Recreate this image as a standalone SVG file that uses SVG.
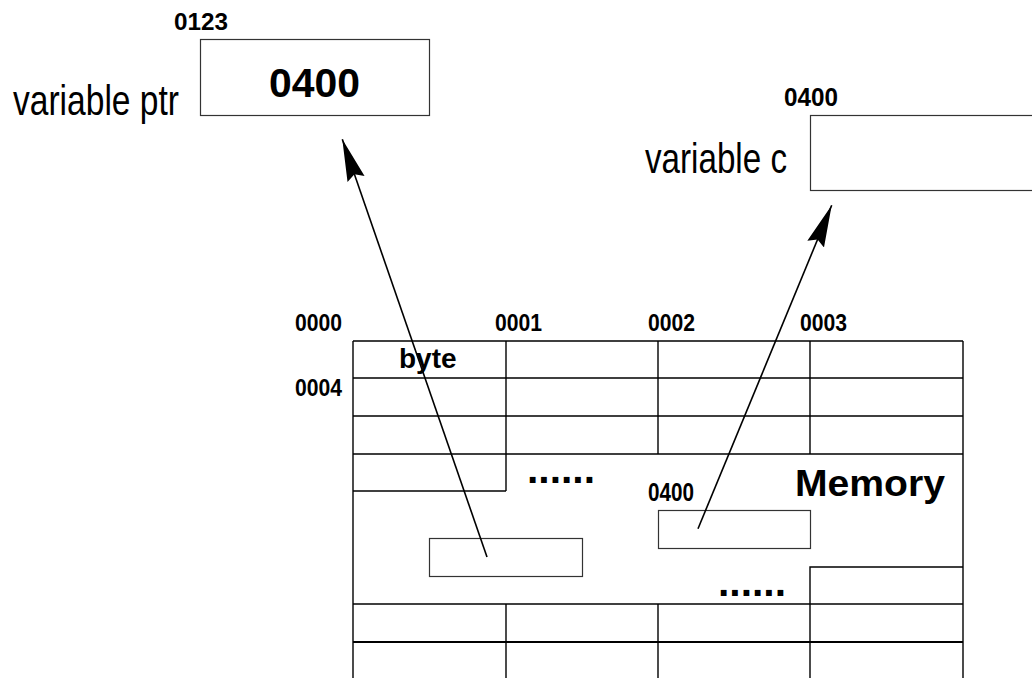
<svg xmlns="http://www.w3.org/2000/svg" width="1032" height="678" viewBox="0 0 1032 678">
  <style>
    .bg { fill: #ffffff; }
    .box { fill: none; stroke: #333333; stroke-width: 1.2; }
    .grid { fill: none; stroke: #000000; stroke-width: 1.4; }
    .thick { stroke-width: 2.2; }
    .name { font-family: "Liberation Sans", Arial, sans-serif; font-size: 42px; fill: #000000; }
    .addr { font-family: "Liberation Sans", Arial, sans-serif; font-weight: bold; font-size: 23px; fill: #000000; }
    .value { font-family: "Liberation Sans", Arial, sans-serif; font-weight: bold; font-size: 40px; fill: #000000; }
    .title { font-family: "Liberation Sans", Arial, sans-serif; font-weight: bold; font-size: 36px; fill: #000000; }
    .word { font-family: "Liberation Sans", Arial, sans-serif; font-weight: bold; font-size: 28px; fill: #000000; }
    .dots { font-family: "Liberation Sans", Arial, sans-serif; font-weight: bold; font-size: 41px; fill: #000000; }
    .link { fill: none; stroke: #000000; stroke-width: 1.6; }
  </style>
  <defs>
    <marker id="head" markerUnits="userSpaceOnUse" markerWidth="44" markerHeight="22" viewBox="0 -11 44 22" refX="42" refY="0" orient="auto">
      <path d="M0,-9 L42,0 L0,9 L5,0 Z" fill="#000000"/>
    </marker>
  </defs>

  <rect class="bg" x="0" y="0" width="1032" height="678"/>

  <!-- pointer variable -->
  <g id="node-ptr">
    <text class="addr" x="174" y="30" textLength="54" lengthAdjust="spacingAndGlyphs">0123</text>
    <text class="name" x="13" y="115" textLength="166" lengthAdjust="spacingAndGlyphs">variable ptr</text>
    <rect class="box" x="200.5" y="39.5" width="229" height="76"/>
    <text class="value" x="269" y="97" textLength="91" lengthAdjust="spacingAndGlyphs">0400</text>
  </g>

  <!-- char variable -->
  <g id="node-c">
    <text class="addr" x="784" y="106" style="font-size:25px" textLength="54" lengthAdjust="spacingAndGlyphs">0400</text>
    <text class="name" x="645" y="173" textLength="142" lengthAdjust="spacingAndGlyphs">variable c</text>
    <rect class="box" x="810.5" y="115.5" width="250" height="75"/>
  </g>

  <!-- memory grid -->
  <g id="node-memory">
    <g class="grid">
      <path d="M353,341 V678 M963,341 V678 M353,341 H963"/>
      <path d="M353,378 H963 M353,416 H963 M353,454 H963"/>
      <path d="M506,341 V491 M658,341 V454 M810,341 V454"/>
      <path d="M353,491 H506"/>
      <path d="M810,604 V567 H963"/>
      <path d="M353,604 H963"/>
      <path class="thick" d="M353,642 H963"/>
      <path d="M506,604 V678 M658,604 V678 M810,604 V678"/>
    </g>
    <rect class="box" x="429.5" y="538.5" width="153" height="38"/>
    <rect class="box" x="658.5" y="510.5" width="152" height="38"/>

    <text class="addr" x="295" y="331" textLength="47" lengthAdjust="spacingAndGlyphs">0000</text>
    <text class="addr" x="495" y="331" textLength="47" lengthAdjust="spacingAndGlyphs">0001</text>
    <text class="addr" x="648" y="331" textLength="47" lengthAdjust="spacingAndGlyphs">0002</text>
    <text class="addr" x="800" y="331" textLength="47" lengthAdjust="spacingAndGlyphs">0003</text>
    <text class="addr" x="295" y="396" textLength="47" lengthAdjust="spacingAndGlyphs">0004</text>
    <text class="addr" x="648" y="501" style="font-size:25px" textLength="46" lengthAdjust="spacingAndGlyphs">0400</text>
    <text class="word" x="399" y="368">byte</text>
    <text class="title" x="795" y="496" textLength="150" lengthAdjust="spacingAndGlyphs">Memory</text>
    <text class="dots" x="527" y="483" textLength="68" lengthAdjust="spacingAndGlyphs">......</text>
    <text class="dots" x="718" y="595.5" textLength="68" lengthAdjust="spacingAndGlyphs">......</text>
  </g>

  <!-- pointer links -->
  <g id="connectors">
    <line class="link" x1="487" y1="557" x2="342.3" y2="139.3" marker-end="url(#head)"/>
    <line class="link" x1="698" y1="528.7" x2="831.7" y2="205.3" marker-end="url(#head)"/>
  </g>
</svg>
